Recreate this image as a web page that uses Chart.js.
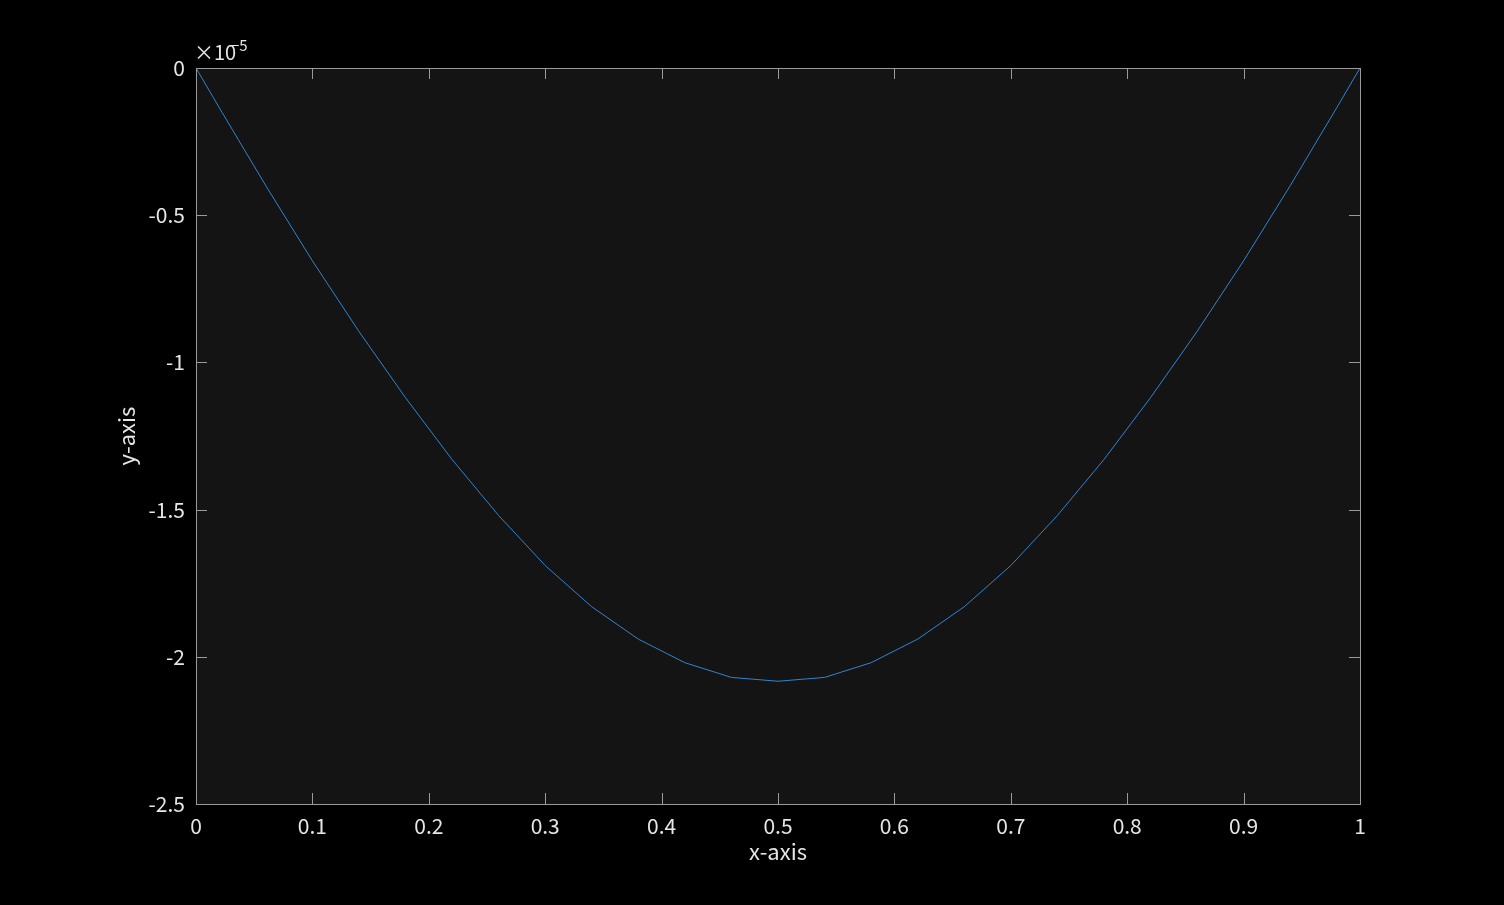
<!DOCTYPE html>
<html><head><meta charset="utf-8">
<script src="https://cdn.jsdelivr.net/npm/chart.js@4/dist/chart.umd.min.js"></script>
<style>html,body{margin:0;background:#000;}#c{display:block}</style></head>
<body><canvas id="c" width="1504" height="905"></canvas>
<script>
const xValues=[0,0.02,0.06,0.10,0.14,0.18,0.22,0.26,0.30,0.34,0.38,0.42,0.46,0.50,0.54,0.58,0.62,0.66,0.70,0.74,0.78,0.82,0.86,0.90,0.94,0.98,1];
const yValues=[0,-0.135,-0.40,-0.655,-0.895,-1.12,-1.33,-1.52,-1.69,-1.83,-1.94,-2.02,-2.07,-2.083,-2.07,-2.02,-1.94,-1.83,-1.69,-1.52,-1.33,-1.12,-0.895,-0.655,-0.40,-0.135,0];
const xTicks=[0,0.1,0.2,0.3,0.4,0.5,0.6,0.7,0.8,0.9,1];
const yTicks=[0,-0.5,-1,-1.5,-2,-2.5];
const FONT='"Noto Sans CJK JP","Noto Sans",sans-serif';
const deco={id:'deco',
 beforeDatasetsDraw(c){const a=c.chartArea,g=c.ctx;g.save();g.fillStyle='#141414';g.fillRect(a.left,a.top,a.right-a.left,a.bottom-a.top);g.restore();},
 afterDatasetsDraw(c){const a=c.chartArea,g=c.ctx,x=c.scales.x,y=c.scales.y;g.save();g.strokeStyle='#9a9a9a';g.lineWidth=1;
  g.strokeRect(a.left+0.5,a.top+0.5,a.right-a.left,a.bottom-a.top);
  g.beginPath();
  xTicks.forEach(t=>{const p=Math.round(x.getPixelForValue(t))+0.5;g.moveTo(p,a.bottom);g.lineTo(p,a.bottom-11);g.moveTo(p,a.top);g.lineTo(p,a.top+11);});
  yTicks.forEach(t=>{const p=Math.round(y.getPixelForValue(t))+0.5;g.moveTo(a.left,p);g.lineTo(a.left+11,p);g.moveTo(a.right,p);g.lineTo(a.right-11,p);});
  g.stroke();
  g.fillStyle='#e6e6e6';g.font='22px '+FONT;g.textAlign='center';g.textBaseline='middle';
  g.fillText('x-axis',(a.left+a.right)/2,852);
  g.translate(127,(a.top+a.bottom)/2);g.rotate(-Math.PI/2);g.fillText('y-axis',0,0);
  g.setTransform(1,0,0,1,0,0);
  g.textAlign='left';g.font='20px '+FONT;g.fillText('×10',194,52);g.font='15px '+FONT;g.fillText('\u22125',231,45);
  g.restore();}};
new Chart(document.getElementById('c'),{type:'scatter',
 data:{datasets:[{data:xValues.map((v,i)=>({x:v,y:yValues[i]})),showLine:true,borderColor:'#2f84d0',borderWidth:1,pointRadius:0,tension:0}]},
 options:{responsive:false,animation:false,layout:{padding:{top:68,right:144,left:0,bottom:0}},
  plugins:{legend:{display:false},tooltip:{enabled:false}},
  scales:{
   x:{type:'linear',min:0,max:1,afterFit(s){s.height=101;},afterBuildTicks(s){s.ticks=xTicks.map(v=>({value:v}));},
      grid:{display:false},border:{display:false},ticks:{color:'#e6e6e6',font:{size:21,family:FONT},padding:1,maxRotation:0,callback:v=>String(v)}},
   y:{type:'linear',min:-2.5,max:0,afterFit(s){s.width=196;},afterBuildTicks(s){s.ticks=yTicks.map(v=>({value:v}));},
      grid:{display:false},border:{display:false},ticks:{color:'#e6e6e6',font:{size:21,family:FONT},padding:3,callback:v=>String(v)}}
  }},plugins:[deco]});
</script></body></html>
